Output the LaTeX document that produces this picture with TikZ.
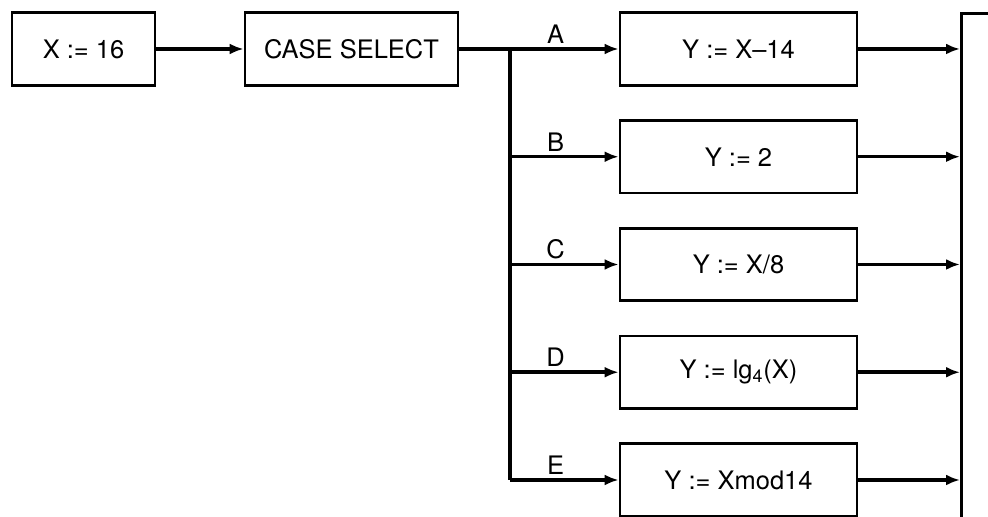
\documentclass[tikz,border=0pt]{standalone}
\usepackage{fontspec}
\setmainfont{TeX Gyre Heros}
\usetikzlibrary{arrows.meta}
\tikzset{box/.style={draw,line width=1.6pt,inner sep=0pt,minimum height=1.45cm,font=\fontsize{14.5}{16}\selectfont},
  flow/.style={line width=2pt,-{Latex[length=0.28cm,width=0.22cm]}},
  wire/.style={line width=2pt},
  tag/.style={above,font=\fontsize{14.5}{16}\selectfont,inner sep=2pt}}

\begin{document}
\begin{tikzpicture}
      \useasboundingbox (0,0) rectangle (19.76,10.34);
      \clip (0,0) rectangle (19.76,10.34);
      \node[box,minimum width=2.86cm] (x) at (1.67,9.36) {X := 16};
      \node[box,minimum width=4.26cm] (case) at (7.03,9.36) {CASE SELECT};
      \node[box,minimum width=4.74cm] (a) at (14.77,9.36) {Y := X--14};
      \node[box,minimum width=4.74cm] (b) at (14.77,7.205) {Y := 2};
      \node[box,minimum width=4.74cm] (c) at (14.77,5.05) {Y := X/8};
      \node[box,minimum width=4.74cm] (d) at (14.77,2.895) {Y := lg\textsubscript{4}(X)};
      \node[box,minimum width=4.74cm] (e) at (14.77,0.74) {Y := Xmod14};
      \node[box,anchor=north west,minimum width=3cm,minimum height=12cm] (join) at (19.2,10.1) {};
      \coordinate (fork) at (10.2,9.36);
      \draw[flow] (x) -- (case);
      \draw[wire] (case) -- (fork);
      \draw[wire] (fork) -- (fork |- e);
      \draw[flow] (fork) -- (a) node[tag,pos=0.42] {A};
      \draw[flow] (fork |- b) -- (b) node[tag,pos=0.42] {B};
      \draw[flow] (fork |- c) -- (c) node[tag,pos=0.42] {C};
      \draw[flow] (fork |- d) -- (d) node[tag,pos=0.42] {D};
      \draw[flow] (fork |- e) -- (e) node[tag,pos=0.42] {E};
      \draw[flow] (a) -- (a -| join.west);
      \draw[flow] (b) -- (b -| join.west);
      \draw[flow] (c) -- (c -| join.west);
      \draw[flow] (d) -- (d -| join.west);
      \draw[flow] (e) -- (e -| join.west);
\end{tikzpicture}
\end{document}
